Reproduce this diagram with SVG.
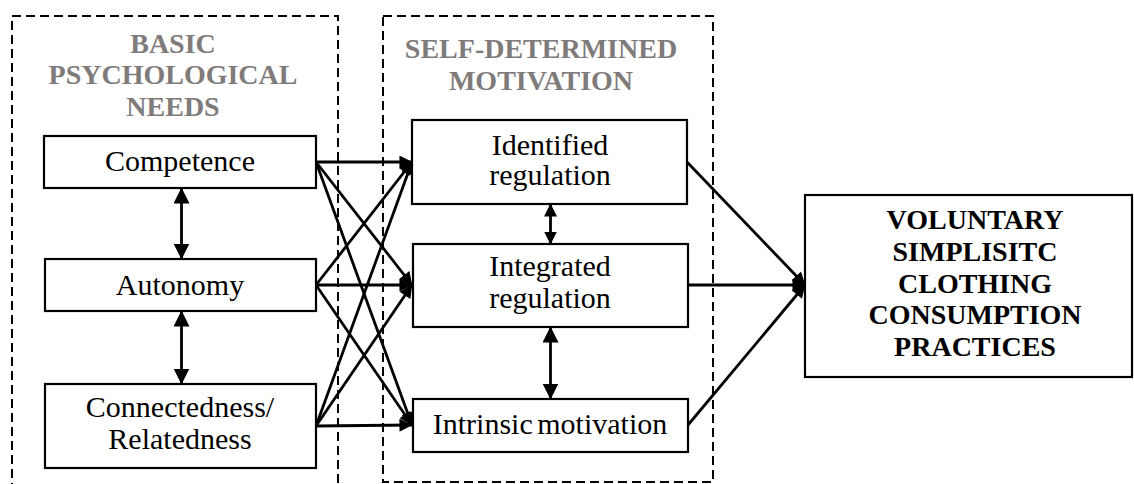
<svg xmlns="http://www.w3.org/2000/svg" width="1134" height="484" viewBox="0 0 1134 484">
<style>
.frame{fill:none;stroke:#000;stroke-width:2;stroke-dasharray:9 5}
.box{fill:#fff;stroke:#000;stroke-width:2.2}
.title{font-family:'Liberation Serif','Times New Roman','DejaVu Serif',serif;font-weight:bold;font-size:28px;fill:#7f7b7b;text-anchor:middle}
.lbl{font-family:'Liberation Serif','Times New Roman','DejaVu Serif',serif;font-size:30px;fill:#000;text-anchor:middle}
.out{font-family:'Liberation Serif','Times New Roman','DejaVu Serif',serif;font-weight:bold;font-size:28px;fill:#000;text-anchor:middle}
.c{stroke:#000;stroke-width:2.8;fill:none}
</style>
<defs>
<marker id="ah" markerUnits="userSpaceOnUse" viewBox="0 0 14 14" markerWidth="14" markerHeight="13" refX="13.5" refY="7" orient="auto"><path d="M0,0 L14,7 L0,14 z" fill="#000"/></marker>
<marker id="dh" markerUnits="userSpaceOnUse" viewBox="0 0 16 16" markerWidth="16" markerHeight="16" refX="15.5" refY="8" orient="auto-start-reverse"><path d="M0,0 L16,8 L0,16 z" fill="#000"/></marker>
<marker id="sh" markerUnits="userSpaceOnUse" viewBox="0 0 13 13" markerWidth="13" markerHeight="13" refX="12.5" refY="6.5" orient="auto-start-reverse"><path d="M0,0 L13,6.5 L0,13 z" fill="#000"/></marker>
</defs>
<g id="frames">
<path class="frame" d="M12,492 V16 H338 V492"/>
<rect class="frame" x="383" y="16" width="330" height="466"/>
</g>
<g id="titles">
<text class="title" x="173" y="53">BASIC</text>
<text class="title" x="173" y="84">PSYCHOLOGICAL</text>
<text class="title" x="173" y="116">NEEDS</text>
<text class="title" x="541" y="58">SELF-DETERMINED</text>
<text class="title" x="541" y="90">MOTIVATION</text>
</g>
<g id="connectors">
<line class="c" x1="316" y1="162" x2="412" y2="162" marker-end="url(#ah)"/>
<line class="c" x1="316" y1="162" x2="412" y2="285" marker-end="url(#ah)"/>
<line class="c" x1="316" y1="162" x2="412" y2="425" marker-end="url(#ah)"/>
<line class="c" x1="316" y1="285" x2="412" y2="162" marker-end="url(#ah)"/>
<line class="c" x1="316" y1="285" x2="412" y2="285" marker-end="url(#ah)"/>
<line class="c" x1="316" y1="285" x2="412" y2="425" marker-end="url(#ah)"/>
<line class="c" x1="316" y1="426" x2="412" y2="162" marker-end="url(#ah)"/>
<line class="c" x1="316" y1="426" x2="412" y2="285" marker-end="url(#ah)"/>
<line class="c" x1="316" y1="426" x2="412" y2="425" marker-end="url(#ah)"/>
<line class="c" x1="687" y1="162" x2="805" y2="285" marker-end="url(#ah)"/>
<line class="c" x1="688" y1="285" x2="805" y2="285" marker-end="url(#ah)"/>
<line class="c" x1="688" y1="425" x2="805" y2="285" marker-end="url(#ah)"/>
<line class="c" x1="181.5" y1="188" x2="181.5" y2="259" marker-start="url(#dh)" marker-end="url(#dh)"/>
<line class="c" x1="181.5" y1="311" x2="181.5" y2="384" marker-start="url(#dh)" marker-end="url(#dh)"/>
<line class="c" x1="550.5" y1="204" x2="550.5" y2="244" marker-start="url(#sh)" marker-end="url(#sh)"/>
<line class="c" x1="550.5" y1="327" x2="550.5" y2="399" marker-start="url(#dh)" marker-end="url(#dh)"/>
</g>
<g id="competence">
<rect class="box" x="44" y="136" width="272" height="52"/>
<text class="lbl" x="180" y="171">Competence</text>
</g>
<g id="autonomy">
<rect class="box" x="45" y="259" width="271" height="52"/>
<text class="lbl" x="180" y="295">Autonomy</text>
</g>
<g id="connectedness">
<rect class="box" x="45" y="384" width="271" height="84"/>
<text class="lbl" x="180" y="417">Connectedness/</text>
<text class="lbl" x="180" y="449">Relatedness</text>
</g>
<g id="identified">
<rect class="box" x="412" y="120" width="275" height="84"/>
<text class="lbl" x="550" y="155">Identified</text>
<text class="lbl" x="550" y="185">regulation</text>
</g>
<g id="integrated">
<rect class="box" x="413" y="244" width="275" height="83"/>
<text class="lbl" x="550" y="276">Integrated</text>
<text class="lbl" x="550" y="308">regulation</text>
</g>
<g id="intrinsic">
<rect class="box" x="413" y="399" width="275" height="53"/>
<text class="lbl" x="550" y="434" word-spacing="-3">Intrinsic motivation</text>
</g>
<g id="outcome">
<rect class="box" x="805" y="195" width="327" height="182"/>
<text class="out" x="975" y="229">VOLUNTARY</text>
<text class="out" x="975" y="261">SIMPLISITC</text>
<text class="out" x="975" y="293">CLOTHING</text>
<text class="out" x="975" y="324">CONSUMPTION</text>
<text class="out" x="975" y="356">PRACTICES</text>
</g>
</svg>
